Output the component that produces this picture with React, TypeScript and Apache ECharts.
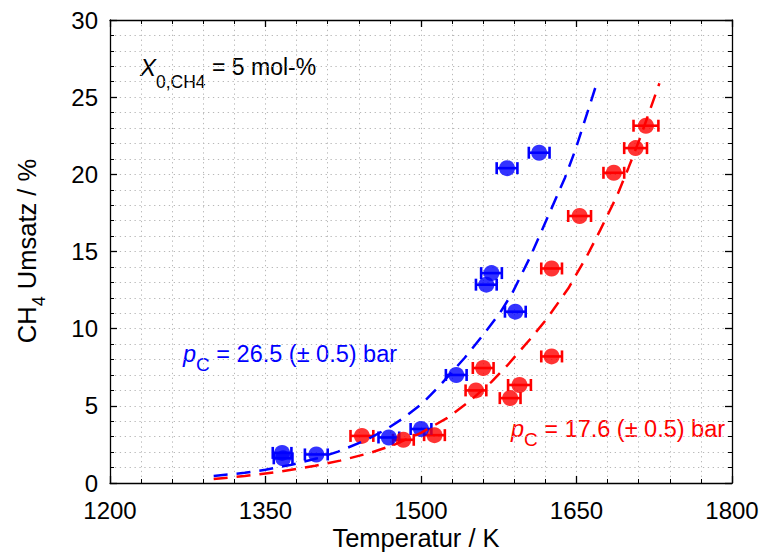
import React, { useEffect, useRef } from "react";
import * as echarts from "echarts";

// ---- data ----
const blueT = [1366, 1367, 1399, 1469, 1500, 1534, 1563, 1568, 1591, 1583, 1614];
const blueX = [1.95, 1.6, 1.85, 2.95, 3.5, 7.0, 12.85, 13.6, 11.1, 20.4, 21.4];
const blueErr = [9, 9, 11, 10, 10, 10, 10, 10, 10, 10, 10];

const redT = [1443, 1483, 1513, 1553, 1560, 1586, 1595, 1626, 1626, 1653, 1686, 1707, 1717];
const redX = [3.05, 2.8, 3.1, 6.0, 7.45, 5.5, 6.35, 8.2, 13.9, 17.3, 20.1, 21.7, 23.15];
const redErr = [11, 10, 10, 10, 10, 10, 11, 10, 10, 11, 10, 11, 12];

const blueCurveT = [1300, 1330, 1350, 1375, 1400, 1420, 1445, 1467, 1483, 1502, 1518, 1542, 1560, 1576, 1588, 1605, 1624, 1639, 1649, 1660, 1670];
const blueCurveX = [0.45, 0.66, 0.86, 1.18, 1.6, 2.03, 2.72, 3.5, 4.2, 5.2, 6.3, 8.1, 9.6, 11.0, 12.3, 14.6, 17.5, 19.8, 21.6, 23.9, 26.0];

const redCurveT = [1300, 1330, 1365, 1398, 1422, 1451, 1475, 1500, 1525, 1547, 1568, 1583, 1605, 1621, 1642, 1660, 1673, 1689, 1700, 1711, 1721, 1730];
const redCurveX = [0.26, 0.45, 0.75, 1.12, 1.45, 1.95, 2.5, 3.25, 4.2, 5.3, 6.55, 7.6, 9.3, 10.6, 12.6, 14.7, 16.4, 18.6, 20.4, 22.3, 24.2, 25.9];

const xTicks = { min: 1200, max: 1800, interval: 150 };
const yTicks = { min: 0, max: 30, interval: 5 };

const FONT = "'Liberation Sans', Arial, Helvetica, sans-serif";
const BLUE = "#0000ff";
const RED = "#ff0000";

function errSeries(T: number[], V: number[], E: number[], color: string) {
  return {
    type: "custom",
    silent: true,
    data: T.map((t, i) => [t, V[i], E[i]]),
    encode: { x: 0, y: 1 },
    renderItem: (params: any, api: any) => {
      const x = api.value(0);
      const y = api.value(1);
      const e = api.value(2);
      const l = api.coord([x - e, y]);
      const r = api.coord([x + e, y]);
      const h = 6;
      const st = { stroke: color, lineWidth: 2.6 };
      return {
        type: "group",
        children: [
          { type: "line", shape: { x1: l[0], y1: l[1], x2: r[0], y2: r[1] }, style: st },
          { type: "line", shape: { x1: l[0], y1: l[1] - h, x2: l[0], y2: l[1] + h }, style: st },
          { type: "line", shape: { x1: r[0], y1: r[1] - h, x2: r[0], y2: r[1] + h }, style: st },
        ],
      };
    },
  };
}

function scatter(T: number[], V: number[], color: string) {
  return {
    type: "scatter",
    silent: true,
    symbol: "circle",
    symbolSize: 16,
    itemStyle: { color },
    data: T.map((t, i) => [t, V[i]]),
  };
}

function curve(T: number[], V: number[], color: string) {
  return {
    type: "line",
    silent: true,
    showSymbol: false,
    symbol: "none",
    smooth: false,
    lineStyle: { color, width: 2.5, type: [14, 9] },
    data: T.map((t, i) => [t, V[i]]),
  };
}

const gridLine = { show: true, lineStyle: { color: "#b8b8b8", width: 1, type: [1.3, 3.6] } };

function xAxisDef(pos: "bottom" | "top") {
  const main = pos === "bottom";
  return {
    type: "value",
    position: pos,
    min: xTicks.min,
    max: xTicks.max,
    interval: xTicks.interval,
    axisLine: { show: true, onZero: false, lineStyle: { color: "#000", width: 1.3 } },
    axisTick: { show: true, inside: true, length: 7, lineStyle: { color: "#000", width: 1.3 } },
    minorTick: { show: true, splitNumber: 5, length: 4, lineStyle: { color: "#000", width: 1 } },
    splitLine: main ? gridLine : { show: false },
    minorSplitLine: main ? gridLine : { show: false },
    axisLabel: main
      ? { show: true, fontSize: 24, color: "#000", margin: 15, fontFamily: FONT, formatter: (v: number) => String(v) }
      : { show: false },
  };
}

function yAxisDef(pos: "left" | "right") {
  const main = pos === "left";
  return {
    type: "value",
    position: pos,
    min: yTicks.min,
    max: yTicks.max,
    interval: yTicks.interval,
    axisLine: { show: true, onZero: false, lineStyle: { color: "#000", width: 1.3 } },
    axisTick: { show: true, inside: true, length: 7, lineStyle: { color: "#000", width: 1.3 } },
    minorTick: { show: true, splitNumber: 5, length: 4, lineStyle: { color: "#000", width: 1 } },
    splitLine: main ? gridLine : { show: false },
    minorSplitLine: main ? gridLine : { show: false },
    axisLabel: main
      ? { show: true, fontSize: 24, color: "#000", margin: 12, fontFamily: FONT, formatter: (v: number) => String(v) }
      : { show: false },
  };
}

export default function App() {
  const ref = useRef<HTMLDivElement>(null);
  useEffect(() => {
    if (!ref.current) return;
    const chart = echarts.init(ref.current, null, { renderer: "svg" });
    chart.setOption({
      animation: false,
      backgroundColor: "#ffffff",
      textStyle: { fontFamily: FONT },
      grid: { left: 110, right: 30, top: 20, bottom: 74, containLabel: false },
      xAxis: [xAxisDef("bottom"), xAxisDef("top")],
      yAxis: [yAxisDef("left"), yAxisDef("right")],
      series: [
        errSeries(redT, redX, redErr, RED),
        scatter(redT, redX, RED),
        errSeries(blueT, blueX, blueErr, BLUE),
        scatter(blueT, blueX, BLUE),
        curve(redCurveT, redCurveX, RED),
        curve(blueCurveT, blueCurveX, BLUE),
      ],
      graphic: [
        {
          type: "text",
          x: 416,
          y: 538,
          silent: true,
          style: {
            text: "Temperatur / K",
            fontSize: 25.5,
            fontFamily: FONT,
            fill: "#000",
            textAlign: "center",
            verticalAlign: "middle",
          },
        },
        {
          type: "text",
          x: 27,
          y: 251,
          rotation: Math.PI / 2,
          silent: true,
          style: {
            text: "{n|CH}{s|4}{n| Umsatz / %}",
            fill: "#000",
            textAlign: "center",
            verticalAlign: "middle",
            rich: {
              n: { fontSize: 25.5, fontFamily: FONT, fill: "#000" },
              s: { fontSize: 18, fontFamily: FONT, fill: "#000", padding: [24, 0, 0, 0] },
            },
          },
        },
        {
          type: "text",
          x: 140,
          y: 67,
          silent: true,
          style: {
            text: "{i|X}{s|0,CH4}{n| = 5 mol-%}",
            fill: "#000",
            textAlign: "left",
            verticalAlign: "middle",
            rich: {
              i: { fontSize: 24, fontStyle: "italic", fontFamily: FONT, fill: "#000" },
              s: { fontSize: 17.5, fontFamily: FONT, fill: "#000", padding: [30, 0, 0, 0] },
              n: { fontSize: 23, fontFamily: FONT, fill: "#000" },
            },
          },
        },
        {
          type: "text",
          x: 183,
          y: 354,
          silent: true,
          style: {
            text: "{i|p}{s|C}{n| = 26.5 (± 0.5) bar}",
            fill: BLUE,
            textAlign: "left",
            verticalAlign: "middle",
            rich: {
              i: { fontSize: 23.5, fontStyle: "italic", fontFamily: FONT, fill: BLUE },
              s: { fontSize: 19, fontFamily: FONT, fill: BLUE, padding: [21, 0, 0, 0] },
              n: { fontSize: 23.5, fontFamily: FONT, fill: BLUE },
            },
          },
        },
        {
          type: "text",
          x: 511,
          y: 429,
          silent: true,
          style: {
            text: "{i|p}{s|C}{n| = 17.6 (± 0.5) bar}",
            fill: RED,
            textAlign: "left",
            verticalAlign: "middle",
            rich: {
              i: { fontSize: 23.5, fontStyle: "italic", fontFamily: FONT, fill: RED },
              s: { fontSize: 19, fontFamily: FONT, fill: RED, padding: [21, 0, 0, 0] },
              n: { fontSize: 23.5, fontFamily: FONT, fill: RED },
            },
          },
        },
      ],
    });
    return () => chart.dispose();
  }, []);
  return (
    <div
      ref={ref}
      style={{ position: "absolute", left: 0, top: 0, width: 762, height: 557, background: "#fff" }}
    />
  );
}
